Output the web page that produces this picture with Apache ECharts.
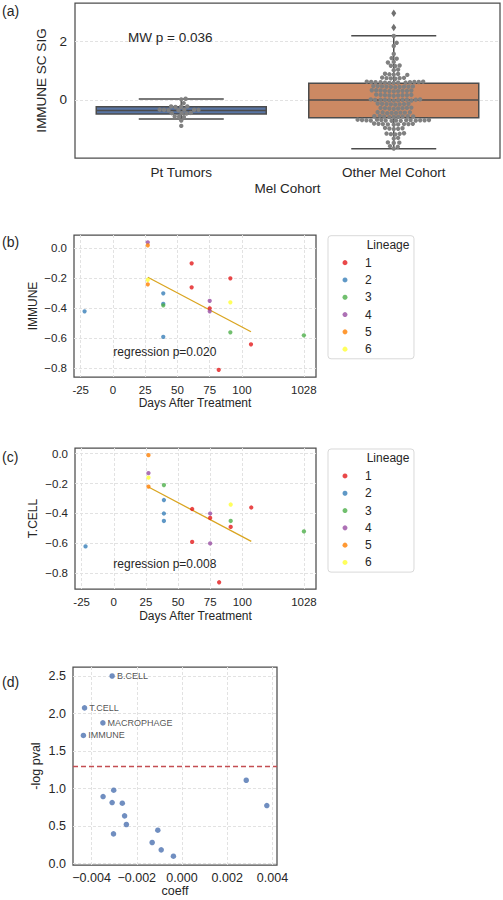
<!DOCTYPE html>
<html><head><meta charset="utf-8">
<script src="https://cdn.jsdelivr.net/npm/echarts@6/dist/echarts.min.js"></script>
<style>html,body{margin:0;padding:0;background:#fff}#main{width:503px;height:900px}</style>
</head><body><div id="main"></div>
<script>
// ---------- Panel (a) data ----------
const cohorts = ['Pt Tumors', 'Other Mel Cohort'];
// [lower whisker, Q1, median, Q3, upper whisker]
const boxStats = [[-0.65, -0.48, -0.36, -0.23, 0.03], [-1.66, -0.60, 0.00, 0.57, 2.18]];
const otherOutliers = [2.46, 2.94];
const aTicks = [0, 2];
const ptTumorsScores = [0.04, 0.02, -0.11, -0.22, -0.23, -0.24, -0.22, -0.33, -0.34, -0.35, -0.34, -0.33, -0.35, -0.34,
  -0.45, -0.44, -0.46, -0.45, -0.56, -0.57, -0.58, -0.70, -0.88];
const otherCohortScores = [2.17, 1.94, 1.83, 1.56, 1.42, 1.40, 1.29, 1.27, 1.17, 1.15, 1.16, 1.03, 1.01,
  0.88, 0.87, 0.86, 0.89, 0.85, 0.75, 0.74, 0.73, 0.76, 0.72, 0.74,
  0.61, 0.60, 0.59, 0.62, 0.58, 0.60, 0.61, 0.59, 0.60, 0.62, 0.58, 0.61, 0.59,
  0.46, 0.45, 0.44, 0.47, 0.43, 0.45, 0.46, 0.44, 0.45, 0.47,
  0.32, 0.31, 0.30, 0.33, 0.29, 0.31, 0.32, 0.30, 0.31, 0.33,
  0.17, 0.16, 0.15, 0.18, 0.14, 0.16, 0.17, 0.15, 0.16,
  0.01, 0.00, -0.01, 0.02, -0.02, 0.00, 0.01, -0.01, 0.00, 0.02, -0.02, 0.01,
  -0.13, -0.14, -0.15, -0.12, -0.16, -0.14, -0.13, -0.15,
  -0.27, -0.28, -0.29, -0.26, -0.30, -0.28, -0.27, -0.29,
  -0.42, -0.43, -0.44, -0.41, -0.45, -0.43, -0.42, -0.44,
  -0.55, -0.56, -0.57, -0.54, -0.58, -0.56, -0.55, -0.57, -0.56,
  -0.68, -0.69, -0.70, -0.67, -0.71, -0.69, -0.68, -0.70, -0.69, -0.67, -0.71, -0.68, -0.70, -0.69, -0.68, -0.70,
  -0.81, -0.82, -0.83, -0.80, -0.84, -0.82, -0.81, -0.83, -0.82,
  -0.96, -0.97, -0.98, -0.95, -0.99,
  -1.14, -1.15, -1.16, -1.13, -1.17,
  -1.29, -1.31, -1.44, -1.45, -1.46, -1.57, -1.59, -1.65];

// ---------- Panels (b) and (c) data ----------
const lineages = ['1', '2', '3', '4', '5', '6'];
const dayTicks = [-25, 0, 25, 50, 75, 100, 1028];
const days     = [61, 61, 75, 82, 91, 107, -22, 39, 39, 39, 39, 91, 1028, 27, 75, 75, 27, 27, 27, 91];
const lineage  = [1, 1, 1, 1, 1, 1, 2, 2, 2, 2, 3, 3, 3, 4, 4, 4, 5, 5, 6, 6];
const immune   = [-0.10, -0.26, -0.40, -0.81, -0.20, -0.64, -0.42, -0.30, -0.37, -0.59, -0.38, -0.56, -0.58, 0.04, -0.35, -0.42, 0.02, -0.24, -0.21, -0.36];
const tcell    = [-0.37, -0.59, -0.43, -0.86, -0.49, -0.36, -0.62, -0.31, -0.40, -0.45, -0.21, -0.45, -0.52, -0.13, -0.40, -0.60, -0.01, -0.22, -0.16, -0.34];
const fitDays  = [27, 107];
const immuneFit = [-0.193, -0.556];
const tcellFit  = [-0.223, -0.586];
const yTicksBC = [-0.8, -0.6, -0.4, -0.2, 0];

// ---------- Panel (d) data ----------
const sigNames = ['B.CELL', 'T.CELL', 'MACROPHAGE', 'IMMUNE', '', '', '', '', '', '', '', '', '', '', '', '', ''];
const coeff = [-0.00309, -0.00431, -0.00350, -0.00436, -0.00349, -0.00302, -0.00309, -0.00264, -0.00254, -0.00246,
  -0.00303, -0.00107, -0.00132, -0.00092, -0.00038, 0.00284, 0.00375];
const negLogP = [2.50, 2.075, 1.875, 1.707, 0.893, 0.977, 0.813, 0.804, 0.635, 0.52, 0.395, 0.444, 0.28, 0.182, 0.097, 1.11, 0.773];
const coeffTicks = [-0.004, -0.002, 0, 0.002, 0.004];
const pTicks = [0, 0.5, 1.0, 1.5, 2.0, 2.5];
const pThreshold = 0.05;

// ---------- styling ----------
const FONT = "'Liberation Sans', Arial, 'DejaVu Sans', sans-serif";
const TXT = '#262626';
const lineageColors = ['#E41A1C', '#377EB8', '#4DAF4A', '#984EA3', '#FF7F00', '#FFFF33'];
const boxColors = ['#5875A4', '#CC8963'];
const boxLine = '#4c4c4c';
const minus = s => String(s).replace(/-/g, '\u2212');
const gridLine = { show: true, lineStyle: { color: '#e2e2e2', type: [3, 2], width: 1 } };

// broken x axis: the late sample (1028 days) sits at a compressed position
const BREAK_FROM = 200, BREAK_POS = 148;
const dayPos = d => (d > BREAK_FROM ? BREAK_POS : d);
const dayTickPos = dayTicks.map(dayPos);
const dayLabel = v => { const i = dayTickPos.indexOf(v); return i >= 0 ? String(dayTicks[i]) : ''; };

const chart = echarts.init(document.getElementById('main'), null, { renderer: 'svg', width: 503, height: 900 });

function gridBox(o) {
  return Object.assign({ show: true, borderColor: '#4d4d4d', borderWidth: 1.25, backgroundColor: 'transparent', containLabel: false, outerBoundsMode: 'none' }, o);
}
function axisCommon(fs) {
  return {
    axisLine: { show: false },
    nameLocation: 'middle',
    nameTextStyle: { fontSize: fs.name, color: TXT, fontFamily: FONT },
  };
}

// swarm layout (pixel offsets), computed from the axis scale
const swarmPoints = [];
ptTumorsScores.forEach(v => swarmPoints.push([0, v]));
otherCohortScores.forEach(v => swarmPoints.push([1, v]));
let swarmOffsets = null;
function computeSwarm(api) {
  const D = 4.4;
  const offsets = new Array(swarmPoints.length).fill(0);
  [0, 1].forEach(cat => {
    const idx = swarmPoints.map((p, i) => i).filter(i => swarmPoints[i][0] === cat);
    idx.sort((a, b) => swarmPoints[a][1] - swarmPoints[b][1]);
    const placed = [];
    idx.forEach(i => {
      const y = api.coord([cat, swarmPoints[i][1]])[1];
      const cands = [0];
      placed.forEach(p => {
        const dy = y - p.y;
        if (Math.abs(dy) < D) {
          const dx = Math.sqrt(D * D - dy * dy);
          cands.push(p.x + dx, p.x - dx);
        }
      });
      cands.sort((a, b) => Math.abs(a) - Math.abs(b));
      let best = 0;
      for (const c of cands) {
        let ok = true;
        for (const p of placed) {
          const dx = c - p.x, dy = y - p.y;
          if (dx * dx + dy * dy < D * D - 0.01) { ok = false; break; }
        }
        if (ok) { best = c; break; }
      }
      placed.push({ x: best, y });
      offsets[i] = best;
    });
  });
  return offsets;
}

function scatterSeries(values, axisIdx) {
  return lineages.map((name, li) => ({
    type: 'scatter', name, xAxisIndex: axisIdx, yAxisIndex: axisIdx,
    symbol: 'circle', symbolSize: 4.3,
    itemStyle: { color: lineageColors[li] },
    data: days.map((d, i) => [dayPos(d), values[i], lineage[i]]).filter(p => p[2] === li + 1).map(p => [p[0], p[1]]),
    z: 3
  }));
}
function fitSeries(fit, axisIdx) {
  return {
    type: 'line', xAxisIndex: axisIdx, yAxisIndex: axisIdx, showSymbol: false, symbol: 'none',
    lineStyle: { color: '#DAA520', width: 1.3 }, itemStyle: { color: '#DAA520' },
    data: fitDays.map((d, i) => [dayPos(d), fit[i]]), z: 2
  };
}
function legendBox(top) {
  return {
    data: lineages, orient: 'vertical', left: 328, top: top,
    padding: [18.3, 42.3, 1, 14.5], itemWidth: 5, itemHeight: 5, itemGap: 0, icon: 'circle',
    textStyle: { fontSize: 12, lineHeight: 17.3, color: TXT, fontFamily: FONT, padding: [0, 0, 0, 12.5] },
    borderColor: '#d9d9d9', borderWidth: 1, borderRadius: 3, backgroundColor: 'transparent',
    selectedMode: false
  };
}
function txt(text, x, y, size, extra) {
  return Object.assign({ type: 'text', x, y, z: 100, style: { text, fontSize: size, fontFamily: FONT, fill: TXT, verticalAlign: 'middle', align: 'left' } }, extra || {});
}

const option = {
  animation: false,
  backgroundColor: '#fff',
  textStyle: { fontFamily: FONT },
  grid: [
    gridBox({ left: 75, top: 3, width: 425, height: 155 }),
    gridBox({ left: 74, top: 235, width: 242, height: 142 }),
    gridBox({ left: 75, top: 448, width: 241, height: 141 }),
    gridBox({ left: 73, top: 667, width: 204, height: 198 })
  ],
  xAxis: [
    Object.assign(axisCommon({ name: 13.5 }), {
      type: 'category', gridIndex: 0, data: cohorts, name: 'Mel Cohort', nameGap: 23,
      axisTick: { show: false }, splitLine: { show: false },
      axisLabel: { fontSize: 13.5, color: TXT, margin: 7, fontFamily: FONT }
    }),
    Object.assign(axisCommon({ name: 12 }), {
      type: 'value', gridIndex: 1, min: -30.2, max: 157.4, name: 'Days After Treatment', nameGap: 20,
      axisTick: { show: false, customValues: dayTickPos }, splitLine: gridLine,
      axisLabel: { customValues: dayTickPos, formatter: dayLabel, fontSize: 11.5, color: TXT, margin: 7, fontFamily: FONT }
    }),
    Object.assign(axisCommon({ name: 12 }), {
      type: 'value', gridIndex: 2, min: -30.2, max: 157.4, name: 'Days After Treatment', nameGap: 21,
      axisTick: { show: false, customValues: dayTickPos }, splitLine: gridLine,
      axisLabel: { customValues: dayTickPos, formatter: dayLabel, fontSize: 11.5, color: TXT, margin: 7, fontFamily: FONT }
    }),
    Object.assign(axisCommon({ name: 12.5 }), {
      type: 'value', gridIndex: 3, min: -0.00482, max: 0.0042, name: 'coeff', nameGap: 19,
      axisTick: { show: false, customValues: coeffTicks }, splitLine: gridLine,
      axisLabel: { customValues: coeffTicks, formatter: v => minus(v.toFixed(3)), fontSize: 12.5, color: TXT, margin: 6, fontFamily: FONT }
    })
  ],
  yAxis: [
    Object.assign(axisCommon({ name: 13.5 }), {
      type: 'value', gridIndex: 0, min: -1.97, max: 3.29, name: 'IMMUNE SC SIG', nameGap: 20,
      axisTick: { show: false, customValues: aTicks }, splitLine: gridLine,
      axisLabel: { customValues: aTicks, formatter: v => minus(v), fontSize: 13.5, color: TXT, margin: 8, fontFamily: FONT }
    }),
    Object.assign(axisCommon({ name: 12 }), {
      type: 'value', gridIndex: 1, min: -0.858, max: 0.089, name: 'IMMUNE', nameGap: 35,
      axisTick: { show: false, customValues: yTicksBC }, splitLine: gridLine,
      axisLabel: { customValues: yTicksBC, formatter: v => minus(v.toFixed(1)), fontSize: 11.5, color: TXT, margin: 7, fontFamily: FONT }
    }),
    Object.assign(axisCommon({ name: 12 }), {
      type: 'value', gridIndex: 2, min: -0.905, max: 0.038, name: 'T.CELL', nameGap: 36,
      axisTick: { show: false, customValues: yTicksBC }, splitLine: gridLine,
      axisLabel: { customValues: yTicksBC, formatter: v => minus(v.toFixed(1)), fontSize: 11.5, color: TXT, margin: 7, fontFamily: FONT }
    }),
    Object.assign(axisCommon({ name: 12.5 }), {
      type: 'value', gridIndex: 3, min: -0.02, max: 2.62, name: '-log pval', nameGap: 30.5,
      axisTick: { show: false, customValues: pTicks }, splitLine: gridLine,
      axisLabel: { customValues: pTicks, formatter: v => v.toFixed(1), fontSize: 12.5, color: TXT, margin: 7, fontFamily: FONT }
    })
  ],
  legend: [legendBox(235.7), legendBox(449)],
  series: [
    {
      type: 'custom', xAxisIndex: 0, yAxisIndex: 0, z: 2,
      data: boxStats.map((s, i) => [i].concat(s)),
      renderItem: (params, api) => {
        const cat = api.value(0);
        const x = api.coord([cat, 0])[0];
        const bw = api.size([1, 0])[0] * 0.8;
        const y = k => api.coord([cat, api.value(k)])[1];
        const yLo = y(1), yQ1 = y(2), yMed = y(3), yQ3 = y(4), yHi = y(5);
        const ls = { stroke: boxLine, lineWidth: 1.5 };
        return {
          type: 'group', children: [
            { type: 'rect', shape: { x: x - bw / 2, y: yQ3, width: bw, height: yQ1 - yQ3 }, style: { fill: boxColors[cat], stroke: boxLine, lineWidth: 1.5 } },
            { type: 'line', shape: { x1: x - bw / 2, y1: yMed, x2: x + bw / 2, y2: yMed }, style: ls },
            { type: 'line', shape: { x1: x, y1: yQ1, x2: x, y2: yLo }, style: ls },
            { type: 'line', shape: { x1: x, y1: yQ3, x2: x, y2: yHi }, style: ls },
            { type: 'line', shape: { x1: x - bw / 4, y1: yLo, x2: x + bw / 4, y2: yLo }, style: ls },
            { type: 'line', shape: { x1: x - bw / 4, y1: yHi, x2: x + bw / 4, y2: yHi }, style: ls }
          ]
        };
      }
    },
    {
      type: 'scatter', xAxisIndex: 0, yAxisIndex: 0, symbol: 'diamond', symbolSize: [5, 7.5],
      itemStyle: { color: boxLine }, data: otherOutliers.map(v => [1, v]), z: 3
    },
    {
      type: 'custom', xAxisIndex: 0, yAxisIndex: 0, z: 4,
      data: swarmPoints,
      renderItem: (params, api) => {
        if (params.dataIndex === 0 || !swarmOffsets) swarmOffsets = computeSwarm(api);
        const c = api.coord([api.value(0), api.value(1)]);
        return { type: 'circle', shape: { cx: c[0] + swarmOffsets[params.dataIndex], cy: c[1], r: 2.2 }, style: { fill: '#808080' } };
      }
    },
    ...scatterSeries(immune, 1),
    fitSeries(immuneFit, 1),
    ...scatterSeries(tcell, 2),
    fitSeries(tcellFit, 2),
    {
      type: 'scatter', xAxisIndex: 3, yAxisIndex: 3, symbol: 'circle', symbolSize: 5.5,
      itemStyle: { color: '#4C72B0' },
      data: coeff.map((c, i) => ({ name: sigNames[i], value: [c, negLogP[i]], label: { show: sigNames[i] !== '' } })),
      label: { position: 'right', distance: 2, formatter: '{b}', fontSize: 9, color: TXT, fontFamily: FONT },
      markLine: {
        silent: true, symbol: 'none', label: { show: false },
        lineStyle: { color: '#C44E52', type: [5, 3], width: 1.3 },
        data: [{ yAxis: -Math.log10(pThreshold) }]
      },
      z: 3
    }
  ],
  graphic: [
    txt('(a)', 2, 11, 14),
    txt('(b)', 2, 241.7, 14),
    txt('(c)', 2, 456.7, 14),
    txt('(d)', 2, 681.7, 14),
    txt('MW p = 0.036', 128, 37, 13.5),
    txt('regression p=0.020', 113.3, 351.7, 12),
    txt('regression p=0.008', 113.3, 564, 12),
    txt('Lineage', 366.7, 245, 12),
    txt('Lineage', 366.7, 458.3, 12)
  ]
};
chart.setOption(option);
</script>
</body></html>
